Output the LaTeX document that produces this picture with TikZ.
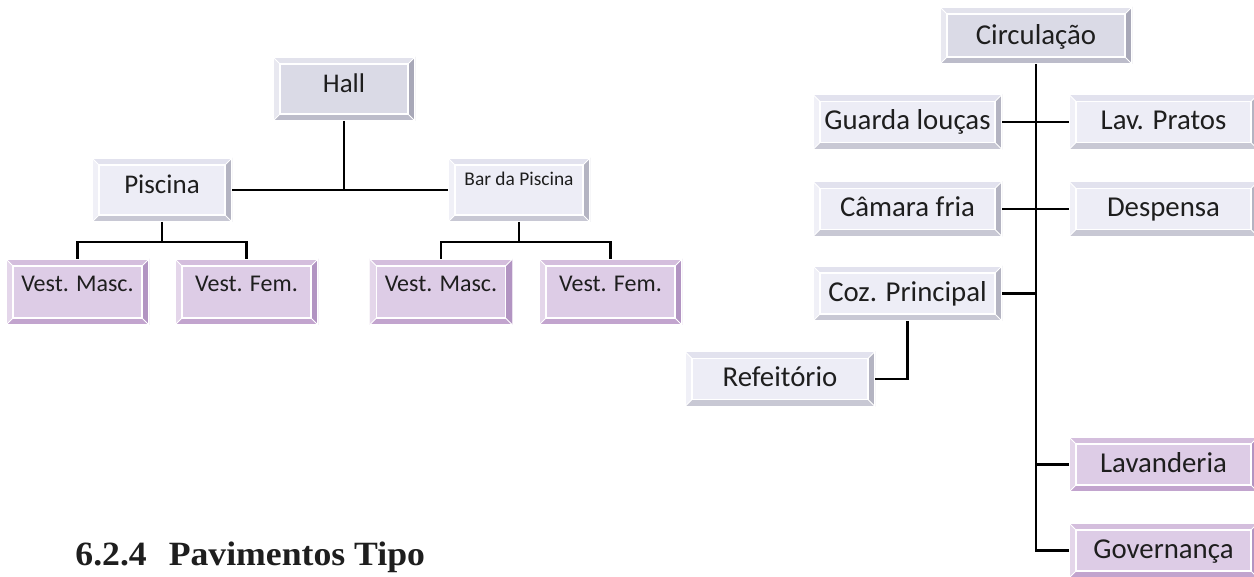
\documentclass[tikz,border=0pt]{standalone}
\usepackage{fontspec}
\setmainfont{Carlito}
\newfontfamily\titlefont[FakeStretch=1.05]{Liberation Serif}
\usetikzlibrary{calc}
\definecolor{gface}{RGB}{218,218,230}
\definecolor{gtop}{RGB}{226,226,236}
\definecolor{gleft}{RGB}{232,232,240}
\definecolor{gright}{RGB}{168,168,184}
\definecolor{gbot}{RGB}{188,188,202}
\definecolor{lface}{RGB}{237,237,246}
\definecolor{ltop}{RGB}{226,226,238}
\definecolor{lleft}{RGB}{240,240,247}
\definecolor{lright}{RGB}{180,180,194}
\definecolor{lbot}{RGB}{200,200,212}
\definecolor{pface}{RGB}{221,204,230}
\definecolor{ptop}{RGB}{212,190,221}
\definecolor{pleft}{RGB}{228,214,234}
\definecolor{pright}{RGB}{178,148,194}
\definecolor{pbot}{RGB}{194,164,206}
\definecolor{txt}{RGB}{30,30,30}
\newcommand\bvtext[2]{\raisebox{#1}[0pt][0pt]{#2}}
\newcommand\bevelpic[4]{%
  \fill[#1] (path picture bounding box.north west) -- (path picture bounding box.north east)
    -- ([xshift=-3.5pt,yshift=-3.5pt]path picture bounding box.north east)
    -- ([xshift=3.5pt,yshift=-3.5pt]path picture bounding box.north west) -- cycle;
  \fill[#2] (path picture bounding box.north west) -- (path picture bounding box.south west)
    -- ([xshift=3.5pt,yshift=3.5pt]path picture bounding box.south west)
    -- ([xshift=3.5pt,yshift=-3.5pt]path picture bounding box.north west) -- cycle;
  \fill[#3] (path picture bounding box.north east) -- (path picture bounding box.south east)
    -- ([xshift=-3.5pt,yshift=3.5pt]path picture bounding box.south east)
    -- ([xshift=-3.5pt,yshift=-3.5pt]path picture bounding box.north east) -- cycle;
  \fill[#4] (path picture bounding box.south west) -- (path picture bounding box.south east)
    -- ([xshift=-3.5pt,yshift=3.5pt]path picture bounding box.south east)
    -- ([xshift=3.5pt,yshift=3.5pt]path picture bounding box.south west) -- cycle;
  \draw[white,line width=0.9pt] ([xshift=3.5pt,yshift=-3.5pt]path picture bounding box.north west)
    rectangle ([xshift=-3.5pt,yshift=3.5pt]path picture bounding box.south east);
  \draw[white,line width=0.5pt]
    (path picture bounding box.north west) -- ++(3.5pt,-3.5pt)
    (path picture bounding box.north east) -- ++(-3.5pt,-3.5pt)
    (path picture bounding box.south west) -- ++(3.5pt,3.5pt)
    (path picture bounding box.south east) -- ++(-3.5pt,3.5pt);
  \draw[white,line width=0.8pt] (path picture bounding box.south west) rectangle (path picture bounding box.north east);
}
\tikzset{
  bx/.style={draw=none, inner sep=0pt, outer sep=0pt, text=txt},
  graybx/.style={bx, fill=gface, path picture={\bevelpic{gtop}{gleft}{gright}{gbot}}},
  lightbx/.style={bx, fill=lface, path picture={\bevelpic{ltop}{lleft}{lright}{lbot}}},
  purplebx/.style={bx, fill=pface, path picture={\bevelpic{ptop}{pleft}{pright}{pbot}}},
  leftsz/.style={minimum width=71pt, minimum height=32pt},
  vestsz/.style={minimum width=71.5pt, minimum height=33pt, font=\fontsize{12}{14}\selectfont},
  rightsz/.style={minimum width=94.5pt, minimum height=27.5pt, font=\fontsize{14.4}{17}\selectfont},
  ln/.style={line width=1.3pt, black},
}
\begin{document}
\begin{tikzpicture}[x=0.5pt, y=-0.5pt]
\useasboundingbox (0,0) rectangle (1254,577);
\clip (0,0) rectangle (1254,577);
\fill[white] (0,0) rectangle (1254,577);
% left tree
\node[graybx, leftsz, font=\fontsize{13.5}{16}\selectfont] (hall) at (344,89) {\bvtext{-1.6pt}{Hall}};
\node[lightbx, leftsz, minimum width=70pt, font=\fontsize{13.5}{16}\selectfont] (piscina) at (162,190) {\bvtext{-1.85pt}{Piscina}};
\node[lightbx, leftsz, font=\fontsize{9.7}{12}\selectfont] (bar) at (519,190) {\bvtext{2.1pt}{Bar da Piscina}};
\node[purplebx, vestsz] (vm1) at (77.5,292) {\bvtext{0.4pt}{Vest. Masc.}};
\node[purplebx, vestsz] (vf1) at (246.5,292) {\bvtext{0.4pt}{Vest. Fem.}};
\node[purplebx, vestsz] (vm2) at (441,292) {\bvtext{0.4pt}{Vest. Masc.}};
\node[purplebx, vestsz] (vf2) at (610.5,292) {\bvtext{0.4pt}{Vest. Fem.}};
\coordinate (pj) at (162,242);
\coordinate (bj) at (519,242);
\draw[ln] (piscina.east) -- (bar.west);
\draw[ln] (hall.south) -- (hall.south |- piscina.east);
\draw[ln] (piscina.south) -- (pj);
\draw[ln] (vm1.north) |- (pj) -| (vf1.north);
\draw[ln] (bar.south) -- (bj);
\draw[ln] (vm2.north) |- (bj) -| (vf2.north);
% right tree
\node[graybx, rightsz, minimum width=96pt, minimum height=28.5pt] (circ) at (1036,35.5) {\bvtext{-4.4pt}{Circulação}};
\node[lightbx, rightsz] (guarda) at (907.5,122) {\bvtext{-3.8pt}{Guarda louças}};
\node[lightbx, rightsz] (lavp) at (1163.5,122) {\bvtext{-3.8pt}{Lav. Pratos}};
\node[lightbx, rightsz] (camara) at (907.5,209) {\bvtext{-3.8pt}{Câmara fria}};
\node[lightbx, rightsz] (desp) at (1163.5,209) {\bvtext{-3.8pt}{Despensa}};
\node[lightbx, rightsz] (coz) at (907.5,293.5) {\bvtext{-3.8pt}{Coz. Principal}};
\node[lightbx, rightsz, minimum width=95pt] (refe) at (780,379) {\bvtext{-3.8pt}{Refeitório}};
\node[purplebx, rightsz] (lavand) at (1163.5,464.5) {\bvtext{-3.8pt}{Lavanderia}};
\node[purplebx, rightsz] (gov) at (1163.5,550.5) {\bvtext{-3.8pt}{Governança}};
\draw[ln] (circ.south) |- (gov.west);
\draw[ln] (guarda.east) -- (lavp.west);
\draw[ln] (camara.east) -- (desp.west);
\draw[ln] (coz.east) -- (coz.east -| circ.south);
\draw[ln] (lavand.west) -- (lavand.west -| circ.south);
\draw[ln] (coz.south) |- (refe.east);
% heading
\node[anchor=base west, inner sep=0pt, text=txt, font=\titlefont\bfseries\fontsize{17}{20}\selectfont] (title) at (75,565) {6.2.4\hspace{11pt}Pavimentos Tipo};
\end{tikzpicture}
\end{document}
